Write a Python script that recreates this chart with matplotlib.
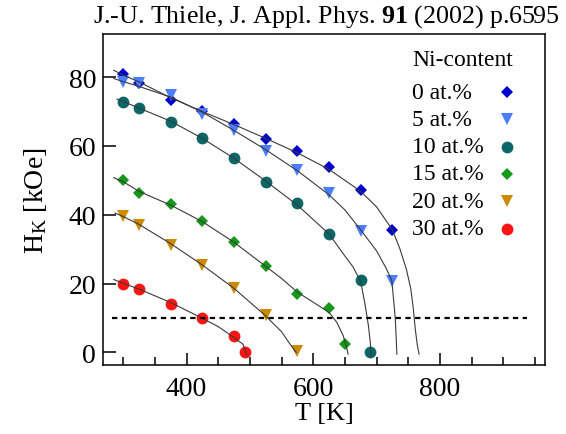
import matplotlib
matplotlib.use("Agg")
import matplotlib.pyplot as plt
from matplotlib.ticker import MultipleLocator

plt.rcParams["font.family"] = ["Liberation Serif", "DejaVu Serif"]
plt.rcParams["mathtext.fontset"] = "custom"
plt.rcParams["mathtext.rm"] = "Liberation Serif"
plt.rcParams["mathtext.it"] = "Liberation Serif:italic"
plt.rcParams["mathtext.bf"] = "Liberation Serif:bold"

# measured points (T in K, H_K in kOe)
labels = ["0 at.%", "5 at.%", "10 at.%", "15 at.%", "20 at.%", "30 at.%"]
colors = ["#0000cc", "#4a7dff", "#0b6767", "#16991a", "#cc8a00", "#ff1414"]
markers = ["D", "v", "o", "D", "v", "o"]

T0 = [300, 325, 375, 425, 475, 525, 575, 625, 675, 725]
H0 = [80.8, 78.3, 73.4, 70.1, 66.5, 62.1, 58.5, 53.9, 47.1, 35.5]
T5 = [300, 325, 375, 425, 475, 525, 575, 625, 675, 725]
H5 = [78.6, 78.2, 74.9, 69.4, 64.5, 58.6, 53.1, 46.2, 35.4, 20.9]
T10 = [300, 325, 375, 425, 475, 525, 575, 625, 675, 690]
H10 = [72.9, 71.1, 67.1, 62.2, 56.5, 49.4, 43.4, 34.4, 21.0, 0.0]
T15 = [300, 325, 375, 425, 475, 525, 575, 625, 650]
H15 = [50.0, 46.4, 43.1, 38.2, 32.1, 25.1, 17.0, 12.9, 2.4]
T20 = [300, 325, 375, 425, 475, 525, 575]
H20 = [39.6, 37.1, 31.3, 25.3, 18.6, 10.8, 0.3]
T30 = [300, 325, 375, 425, 475, 492]
H30 = [20.0, 18.3, 14.1, 9.9, 4.8, 0.0]

# guide curves
cT0 = [285, 300, 325, 375, 425, 475, 525, 575, 625, 675, 700, 725, 737, 747, 754, 758, 761, 764, 767]
cH0 = [82.0, 80.6, 78.6, 74.0, 70.0, 66.2, 62.2, 58.0, 53.2, 46.8, 42.3, 35.6, 30.0, 24.2, 18.5, 12.7, 6.9, 2.5, -0.5]
cT5 = [285, 300, 325, 375, 425, 475, 525, 575, 625, 650, 675, 700, 715, 724, 727, 729.5, 731, 732]
cH5 = [79.6, 78.7, 77.3, 74.2, 69.8, 64.5, 58.9, 52.8, 45.8, 41.4, 35.6, 29.5, 24.5, 20.9, 15.0, 9.8, 4.0, -0.5]
cT10 = [290, 300, 325, 375, 425, 475, 525, 575, 625, 650, 663, 675, 682, 687, 690, 691.5]
cH10 = [73.6, 72.9, 71.0, 67.2, 62.2, 56.4, 49.8, 42.8, 34.4, 28.0, 24.8, 20.5, 13.7, 7.9, 3.0, -1.0]
cT15 = [285, 300, 325, 375, 425, 475, 525, 550, 575, 600, 625, 637, 647, 652, 655]
cH15 = [50.8, 49.6, 46.8, 42.8, 38.0, 32.0, 25.0, 21.5, 17.5, 14.6, 11.6, 8.8, 5.0, 2.0, -0.5]
cT20 = [287, 300, 325, 375, 425, 475, 525, 550, 563, 573]
cH20 = [40.5, 39.5, 37.2, 31.6, 25.4, 18.6, 10.6, 6.0, 2.5, 0.0]
cT30 = [285, 300, 325, 375, 425, 450, 475, 489, 495]
cH30 = [21.2, 20.1, 18.4, 14.5, 9.9, 7.5, 4.3, 2.4, -0.8]

line_T = [282, 937]
line_H = [10, 10]

fig = plt.figure(figsize=(5.66, 4.35), dpi=100)
ax = fig.add_axes([0.182, 0.159, 0.781, 0.761])

data = [(T0, H0), (T5, H5), (T10, H10), (T15, H15), (T20, H20), (T30, H30)]
curves = [(cT0, cH0), (cT5, cH5), (cT10, cH10), (cT15, cH15), (cT20, cH20), (cT30, cH30)]
sizes = [6.0, 8.0, 8.5, 6.0, 8.5, 8.5]

for (T, H), lab, c, m, ms in zip(data, labels, colors, markers, sizes):
    ax.plot(T, H, linestyle="none", marker=m, color=c, markersize=ms,
            markeredgewidth=0, zorder=2)

for cT, cH in curves:
    ax.plot(cT, cH, color="#3a3a3a", linewidth=0.8, zorder=3)

ax.plot(line_T, line_H, color="black", linewidth=1.6, dashes=(2.4, 2.0), zorder=3)

ax.set_xlim(268, 966)
ax.set_ylim(-3.6, 92.6)
ax.xaxis.set_major_locator(MultipleLocator(200))
ax.xaxis.set_minor_locator(MultipleLocator(50))
ax.yaxis.set_major_locator(MultipleLocator(20))
ax.tick_params(which="both", direction="in", top=False, right=False,
               labelsize=20, width=1.1)
ax.tick_params(which="major", length=9)
ax.tick_params(axis="x", which="major", pad=8)
ax.tick_params(axis="y", which="major", pad=5)
ax.tick_params(which="minor", length=5.5)
for s in ax.spines.values():
    s.set_linewidth(1.1)

ax.set_xlabel("T [K]", fontsize=19, labelpad=1)
ax.set_ylabel(r"H$_\mathrm{K}$ [kOe]", fontsize=20, labelpad=14)

# legend: text on the left, marker on the right
leg_x_text = 0.699
leg_x_mark = 0.914
leg_y0 = 0.824
leg_dy = 0.0825
ax.text(leg_x_text, 0.922, "Ni-content", transform=ax.transAxes,
        ha="left", va="center", fontsize=17)
for i, (lab, c, m, ms) in enumerate(zip(labels, colors, markers, sizes)):
    y = leg_y0 - i * leg_dy
    ax.text(leg_x_text, y, lab, transform=ax.transAxes,
            ha="left", va="center", fontsize=17)
    ax.plot([leg_x_mark], [y], transform=ax.transAxes, linestyle="none",
            marker=m, color=c, markersize=ms, markeredgewidth=0, clip_on=False)

fig.text(0.989, 0.992, r"J.-U. Thiele, J. Appl. Phys. $\mathbf{91}$ (2002) p.6595",
         ha="right", va="top", fontsize=18.7)

plt.savefig("out.png", dpi=100)
